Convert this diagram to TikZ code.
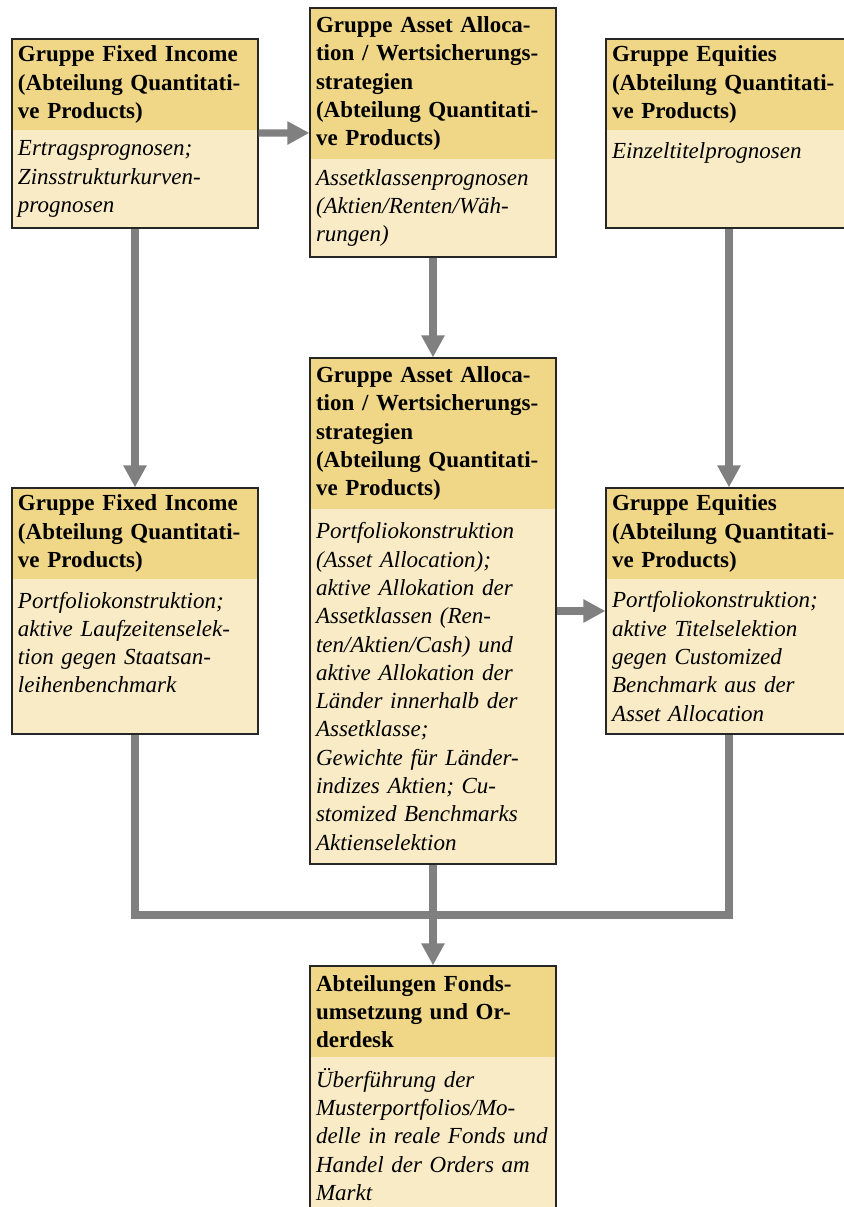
\documentclass[tikz,border=0pt]{standalone}
\usepackage{fontspec}
\setmainfont{Liberation Serif}
\usetikzlibrary{arrows.meta,positioning,fit}
\definecolor{hdrcol}{RGB}{240,215,136}
\definecolor{txtcol}{RGB}{248,235,197}
\definecolor{flowcol}{RGB}{128,128,128}

\begin{document}
\begin{tikzpicture}[x=1pt,y=1pt,
  hdr/.style={anchor=north west,fill=hdrcol,text width=117pt,inner xsep=3pt,inner ysep=2pt,
    outer sep=0pt,align=left,font=\fontsize{11.5}{14.15}\selectfont\bfseries},
  txt/.style={fill=txtcol,text width=117pt,inner xsep=3pt,inner ysep=2pt,
    outer sep=0pt,align=left,font=\fontsize{11.5}{14.15}\selectfont\itshape},
  hd3/.style={hdr,minimum height=45.5pt},
  hd5/.style={hdr,minimum height=75.5pt},
  frame/.style={draw=black!85,line width=0.6pt,inner sep=0pt},
  flow/.style={draw=flowcol,line width=3.6pt,-{Triangle[length=11pt,width=11pt]}}]
 \useasboundingbox (0,0) rectangle (422,-603.5);

 % obere Reihe
 \node[hd3] (fi1h) at (6,-19.5) {Gruppe Fixed Income\\(Abteilung Quantitati-\\ve Products)};
 \node[txt,minimum height=49pt] (fi1t) [below=0pt of fi1h] {Ertragsprognosen;\\Zinsstrukturkurven-\\prognosen};
 \node[hd5] (aa1h) at (155,-4) {Gruppe Asset Alloca-\\tion / Wertsicherungs-\\strategien\\(Abteilung Quantitati-\\ve Products)};
 \node[txt,minimum height=49pt] (aa1t) [below=0pt of aa1h] {Assetklassenprognosen\\(Aktien/Renten/Wäh-\\rungen)};
 \node[hd3] (eq1h) at (303,-19.5) {Gruppe Equities\\(Abteilung Quantitati-\\ve Products)};
 \node[txt,minimum height=49pt] (eq1t) [below=0pt of eq1h] {Einzeltitelprognosen\\\mbox{}\\\mbox{}};

 % mittlere Reihe
 \node[hd3] (fi2h) at (6,-244) {Gruppe Fixed Income\\(Abteilung Quantitati-\\ve Products)};
 \node[txt,minimum height=77.5pt] (fi2t) [below=0pt of fi2h] {Portfoliokonstruktion;\\aktive Laufzeitenselek-\\tion gegen Staatsan-\\leihenbenchmark\\\mbox{}};
 \node[hd5] (aa2h) at (155,-179) {Gruppe Asset Alloca-\\tion / Wertsicherungs-\\strategien\\(Abteilung Quantitati-\\ve Products)};
 \node[txt,minimum height=177.5pt] (aa2t) [below=0pt of aa2h] {Portfoliokonstruktion\\(Asset Allocation);\\aktive Allokation der\\Assetklassen (Ren-\\ten/Aktien/Cash) und\\aktive Allokation der\\Länder innerhalb der\\Assetklasse;\\Gewichte für Länder-\\indizes Aktien; Cu-\\stomized Benchmarks\\Aktienselektion};
 \node[hd3] (eq2h) at (303,-244) {Gruppe Equities\\(Abteilung Quantitati-\\ve Products)};
 \node[txt,minimum height=77.5pt] (eq2t) [below=0pt of eq2h] {Portfoliokonstruktion;\\aktive Titelselektion\\gegen Customized\\Benchmark aus der\\Asset Allocation};

 % untere Reihe
 \node[hd3] (foh) at (155,-483) {Abteilungen Fonds-\\umsetzung und Or-\\derdesk};
 \node[txt,minimum height=77.5pt] (fot) [below=0pt of foh] {Überführung der\\Musterportfolios/Mo-\\delle in reale Fonds und\\Handel der Orders am\\Markt};

 % Rahmen
 \node[frame,fit=(fi1h)(fi1t)] (fi1) {};
 \node[frame,fit=(aa1h)(aa1t)] (aa1) {};
 \node[frame,fit=(eq1h)(eq1t)] (eq1) {};
 \node[frame,fit=(fi2h)(fi2t)] (fi2) {};
 \node[frame,fit=(aa2h)(aa2t)] (aa2) {};
 \node[frame,fit=(eq2h)(eq2t)] (eq2) {};
 \node[frame,fit=(foh)(fot)]   (fo)  {};

 \coordinate (mrg) at (216.5,-457.5);

 \path (fi1) edge[flow] (aa1)
            edge[flow] (fi2)
       (aa1) edge[flow] (aa2)
       (eq1) edge[flow] (eq2)
       (aa2) edge[flow] (eq2)
            edge[flow] (fo);
 \draw[flowcol,line width=3.6pt,line join=miter] (fi2.south) |- (mrg) -| (eq2.south);
\end{tikzpicture}
\end{document}
